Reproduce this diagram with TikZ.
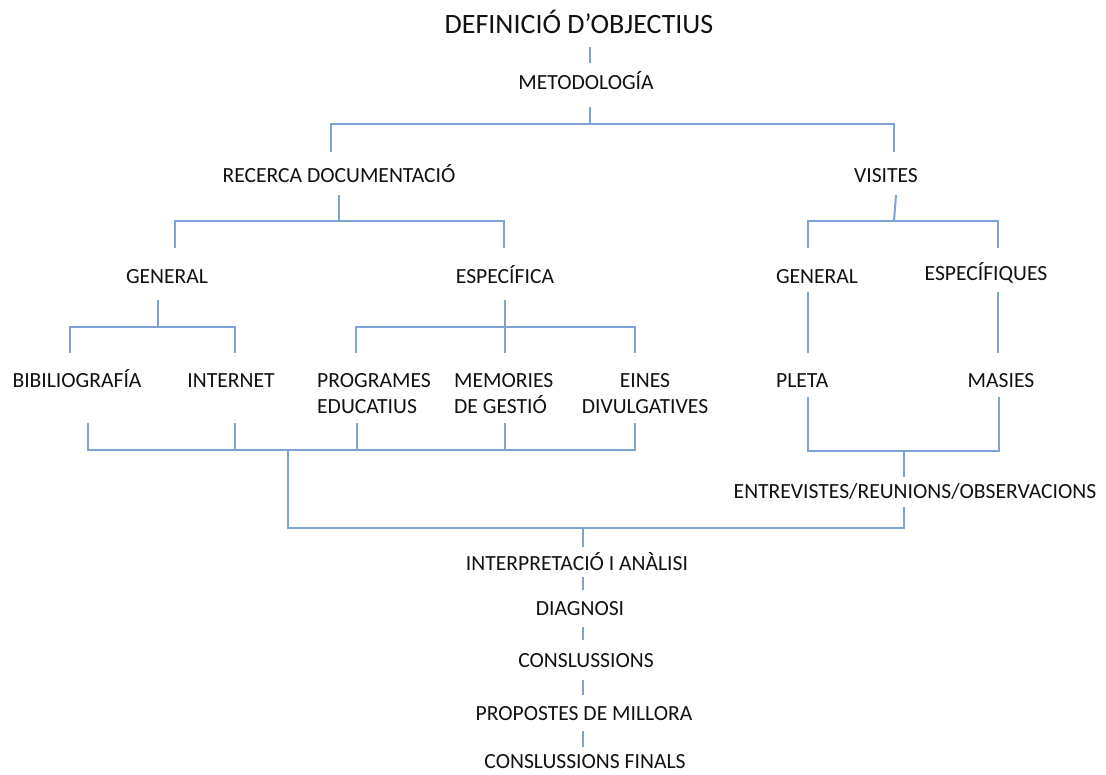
\documentclass[tikz,border=0pt]{standalone}
\usepackage{fontspec}
\setmainfont{Carlito}
\definecolor{lineblue}{HTML}{7FA2D4}
\definecolor{txt}{HTML}{111111}
\newcommand\twoleft[2]{\vtop{\hbox{#1}\hbox{#2}}}
\newcommand\twocenter[2]{\vtop{\halign{\hfil##\hfil\cr#1\cr#2\cr}}}
\tikzset{
  lbl/.style={font=\fontsize{21.6}{26}\selectfont, text=txt, inner sep=0pt, anchor=base},
  titlelbl/.style={lbl, font=\fontsize{28}{32}\selectfont},
  conn/.style={draw=lineblue, line width=2pt}
}
\begin{document}
\begin{tikzpicture}[x=1pt,y=-1pt]
\useasboundingbox (0,0) rectangle (1106,774);
% labels
\node[titlelbl] (title) at (579,33) {DEFINICIÓ D’OBJECTIUS};
\node[lbl] (met) at (586,89) {METODOLOGÍA};
\node[lbl] (rec) at (339,182) {RECERCA DOCUMENTACIÓ};
\node[lbl] (vis) at (886,182) {VISITES};
\node[lbl] (genl) at (167,283) {GENERAL};
\node[lbl] (espa) at (505,283) {ESPECÍFICA};
\node[lbl] (genr) at (817,283) {GENERAL};
\node[lbl] (espq) at (986,280) {ESPECÍFIQUES};
\node[lbl] (bib) at (77,387) {BIBILIOGRAFÍA};
\node[lbl] (int) at (231,387) {INTERNET};
\node[lbl, anchor=base west] (prog) at (317,387) {\twoleft{PROGRAMES}{EDUCATIUS}};
\node[lbl, anchor=base west] (mem) at (454,387) {\twoleft{MEMORIES}{DE GESTIÓ}};
\node[lbl] (eines) at (645,387) {\twocenter{EINES}{DIVULGATIVES}};
\node[lbl, anchor=base west] (pleta) at (776,387) {PLETA};
\node[lbl] (masies) at (1001,387) {MASIES};
\node[lbl] (entr) at (915,498) {ENTREVISTES/REUNIONS/OBSERVACIONS};
\node[lbl] (interp) at (577,570) {INTERPRETACIÓ I ANÀLISI};
\node[lbl] (diag) at (580,615) {DIAGNOSI};
\node[lbl] (conc) at (586,667) {CONSLUSSIONS};
\node[lbl] (prop) at (584,720) {PROPOSTES DE MILLORA};
\node[lbl] (concf) at (585,768) {CONSLUSSIONS FINALS};
% connector points
\coordinate (a1) at (590,47); \coordinate (a2) at (590,63);
\coordinate (b1) at (590,107); \coordinate (b2) at (590,124);
\coordinate (bl) at (331,124); \coordinate (br) at (894,124);
\coordinate (bl2) at (331,152); \coordinate (br2) at (894,152);
\coordinate (c1) at (339,195); \coordinate (c2) at (339,221);
\coordinate (cl) at (175,221); \coordinate (cr) at (504,221);
\coordinate (cl2) at (175,248); \coordinate (cr2) at (504,248);
\coordinate (d1) at (896,195); \coordinate (d2) at (894,221);
\coordinate (dl) at (808,221); \coordinate (dr) at (998,221);
\coordinate (dl2) at (808,248); \coordinate (dr2) at (998,248);
\coordinate (e1) at (158,300); \coordinate (e2) at (158,327);
\coordinate (el) at (70,327); \coordinate (er) at (235,327);
\coordinate (el2) at (70,353); \coordinate (er2) at (235,353);
\coordinate (f1) at (505,300); \coordinate (f2) at (505,327); \coordinate (f3) at (505,353);
\coordinate (fl) at (356,327); \coordinate (fr) at (635,327);
\coordinate (fl2) at (356,353); \coordinate (fr2) at (635,353);
\coordinate (g1) at (808,292); \coordinate (g2) at (808,353);
\coordinate (h1) at (998,292); \coordinate (h2) at (998,353);
\coordinate (i1) at (88,423); \coordinate (i1b) at (88,450);
\coordinate (i2) at (235,423); \coordinate (i2b) at (235,450);
\coordinate (i3) at (357,423); \coordinate (i3b) at (357,450);
\coordinate (i4) at (505,423); \coordinate (i4b) at (505,450);
\coordinate (i5) at (635,423); \coordinate (i5b) at (635,450);
\coordinate (j1) at (288,450); \coordinate (j2) at (288,528);
\coordinate (k1) at (808,397); \coordinate (k1b) at (808,451);
\coordinate (k2) at (999,397); \coordinate (k2b) at (999,451);
\coordinate (m1) at (904,451); \coordinate (m2) at (904,477);
\coordinate (m3) at (904,507); \coordinate (m4) at (904,528);
\coordinate (n1) at (583,528); \coordinate (n2) at (583,547);
\coordinate (p1) at (583,577); \coordinate (p2) at (583,590);
\coordinate (q1) at (583,627); \coordinate (q2) at (583,640);
\coordinate (r1) at (583,680); \coordinate (r2) at (583,695);
\coordinate (s1) at (583,731); \coordinate (s2) at (583,747);
% connectors
\draw[conn] (a1) -- (a2);
\draw[conn] (b1) -- (b2);
\draw[conn] (bl2) -- (bl) -- (br) -- (br2);
\draw[conn] (c1) -- (c2);
\draw[conn] (cl2) -- (cl) -- (cr) -- (cr2);
\draw[conn] (d1) -- (d2);
\draw[conn] (dl2) -- (dl) -- (dr) -- (dr2);
\draw[conn] (e1) -- (e2);
\draw[conn] (el2) -- (el) -- (er) -- (er2);
\draw[conn] (f1) -- (f3);
\draw[conn] (fl2) -- (fl) -- (fr) -- (fr2);
\draw[conn] (g1) -- (g2);
\draw[conn] (h1) -- (h2);
\draw[conn] (i1) -- (i1b) -- (i5b) -- (i5);
\draw[conn] (i2) -- (i2b);
\draw[conn] (i3) -- (i3b);
\draw[conn] (i4) -- (i4b);
\draw[conn] (j1) -- (j2) -- (m4) -- (m3);
\draw[conn] (k1) -- (k1b) -- (k2b) -- (k2);
\draw[conn] (m1) -- (m2);
\draw[conn] (n1) -- (n2);
\draw[conn] (p1) -- (p2);
\draw[conn] (q1) -- (q2);
\draw[conn] (r1) -- (r2);
\draw[conn] (s1) -- (s2);
\end{tikzpicture}
\end{document}
